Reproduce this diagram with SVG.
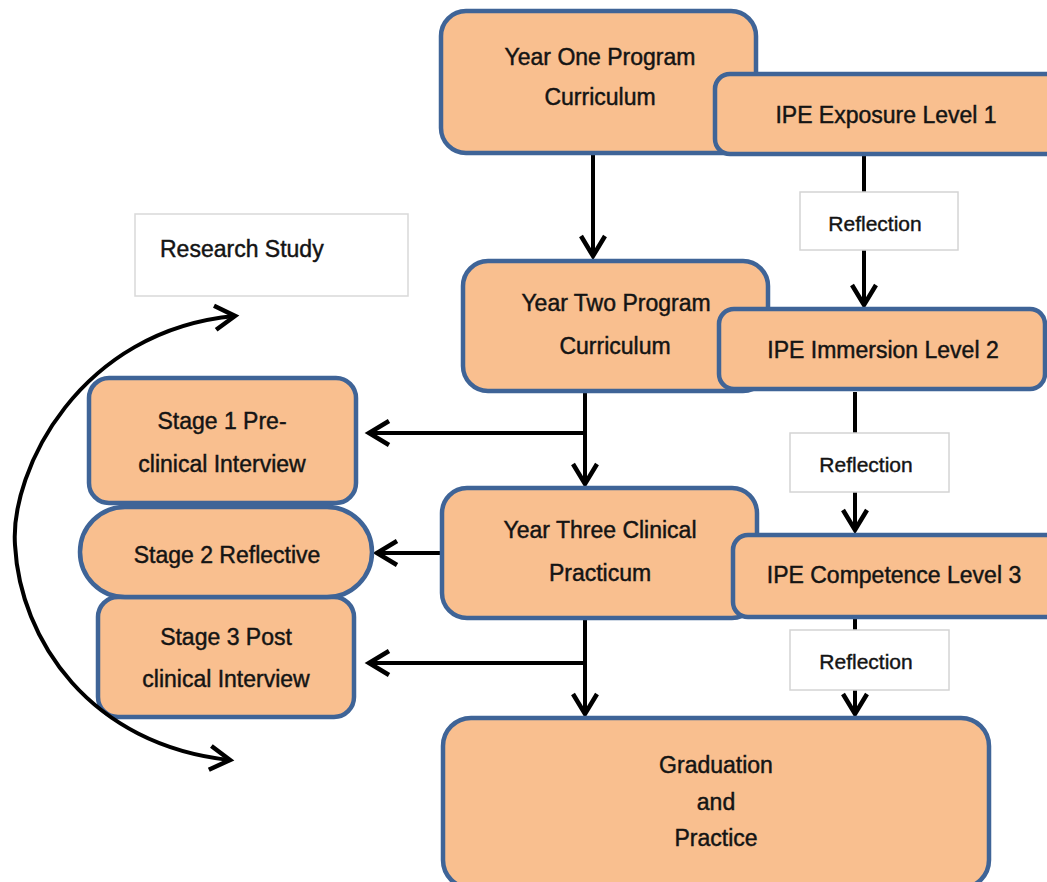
<svg xmlns="http://www.w3.org/2000/svg" width="1047" height="882" viewBox="0 0 1047 882">
<style>
.box{fill:#F9BF8F;stroke:#3F6497;stroke-width:4.5}
.refl{fill:#fff;stroke:#d4d4d4;stroke-width:1.5}
.rs{fill:#fff;stroke:#d9d9d9;stroke-width:1.5}
.t{font-family:"Liberation Sans",Arial,sans-serif;font-size:23px;fill:#141414;stroke:#141414;stroke-width:0.45;text-anchor:middle}
.ts{font-family:"Liberation Sans",Arial,sans-serif;font-size:21px;fill:#141414;stroke:#141414;stroke-width:0.4;text-anchor:middle}
.c{fill:none;stroke:#000;stroke-width:4}
</style>
<defs>
<marker id="ah" markerUnits="userSpaceOnUse" markerWidth="30" markerHeight="30" viewBox="-22 -15 26 30" refX="0" refY="0" orient="auto" overflow="visible">
<path d="M-20,-12 L0,0 L-20,12" fill="none" stroke="#000" stroke-width="4.5"/>
</marker>
<marker id="ahs" markerUnits="userSpaceOnUse" markerWidth="30" markerHeight="30" viewBox="-4 -15 26 30" refX="0" refY="0" orient="auto" overflow="visible">
<path d="M20,-12 L0,0 L20,12" fill="none" stroke="#000" stroke-width="4.5"/>
</marker>
</defs>
<g id="connectors">
<path class="c" d="M593,152 L593,256" marker-end="url(#ah)"/>
<path class="c" d="M864,155 L864,192"/>
<path class="c" d="M864,250 L864,305" marker-end="url(#ah)"/>
<path class="c" d="M855,392 L855,433"/>
<path class="c" d="M855,492 L855,530" marker-end="url(#ah)"/>
<path class="c" d="M855,618 L855,630"/>
<path class="c" d="M855,690 L855,714" marker-end="url(#ah)"/>
<path class="c" d="M585,392 L585,484" marker-end="url(#ah)"/>
<path class="c" d="M585,433 L369,433" marker-end="url(#ah)"/>
<path class="c" d="M442,553 L377,553" marker-end="url(#ah)"/>
<path class="c" d="M585,618 L585,714" marker-end="url(#ah)"/>
<path class="c" d="M585,663 L369,663" marker-end="url(#ah)"/>
</g>
<g id="research-study">
<rect class="rs" x="135" y="214" width="273" height="82"/>
<text class="t" x="160" y="257" style="text-anchor:start">Research Study</text>
</g>
<g id="year-one">
<rect class="box" x="441" y="11" width="315" height="142" rx="25"/>
<text class="t" x="600" y="65">Year One Program</text>
<text class="t" x="600" y="105">Curriculum</text>
</g>
<g id="ipe-exposure">
<rect class="box" x="715" y="74" width="350" height="80" rx="15"/>
<text class="t" x="886" y="123">IPE Exposure Level 1</text>
</g>
<g id="reflection-1">
<rect class="refl" x="800" y="192" width="158" height="58"/>
<text class="ts" x="875" y="231">Reflection</text>
</g>
<g id="year-two">
<rect class="box" x="463" y="261" width="305" height="130" rx="25"/>
<text class="t" x="616" y="311">Year Two Program</text>
<text class="t" x="615" y="354">Curriculum</text>
</g>
<g id="ipe-immersion">
<rect class="box" x="719" y="309" width="326" height="80" rx="15"/>
<text class="t" x="883" y="358">IPE Immersion Level 2</text>
</g>
<g id="reflection-2">
<rect class="refl" x="790" y="433" width="159" height="59"/>
<text class="ts" x="866" y="472">Reflection</text>
</g>
<g id="year-three">
<rect class="box" x="442" y="488" width="315" height="130" rx="25"/>
<text class="t" x="600" y="538">Year Three Clinical</text>
<text class="t" x="600" y="581">Practicum</text>
</g>
<g id="ipe-competence">
<rect class="box" x="733" y="535" width="330" height="82" rx="15"/>
<text class="t" x="894" y="583">IPE Competence Level 3</text>
</g>
<g id="reflection-3">
<rect class="refl" x="790" y="630" width="159" height="60"/>
<text class="ts" x="866" y="669">Reflection</text>
</g>
<g id="graduation">
<rect class="box" x="443" y="718" width="546" height="170" rx="28"/>
<text class="t" x="716" y="773">Graduation</text>
<text class="t" x="716" y="810">and</text>
<text class="t" x="716" y="846">Practice</text>
</g>
<g id="stage-1">
<rect class="box" x="89" y="378" width="267" height="125" rx="20"/>
<text class="t" x="222" y="429">Stage 1 Pre-</text>
<text class="t" x="222" y="472">clinical Interview</text>
</g>
<g id="stage-3">
<rect class="box" x="98" y="597" width="256" height="120" rx="20"/>
<text class="t" x="226" y="645">Stage 3 Post</text>
<text class="t" x="226" y="687">clinical Interview</text>
</g>
<g id="stage-2">
<rect class="box" x="80" y="507" width="292" height="90" rx="45"/>
<text class="t" x="227" y="563">Stage 2 Reflective</text>
</g>
<g id="cycle-arrow">
<path class="c" d="M235,316 C80,330 10,470 15,545 C20,640 90,745 230,760" marker-end="url(#ah)" marker-start="url(#ahs)"/>
</g>
</svg>
